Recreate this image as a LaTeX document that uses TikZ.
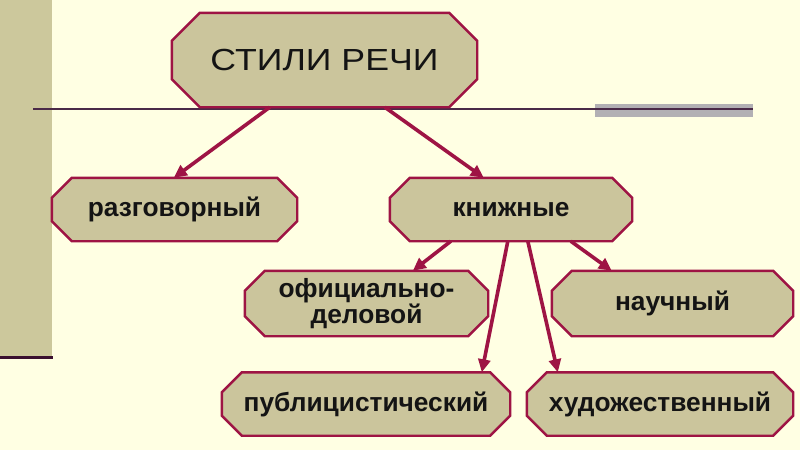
\documentclass[tikz,border=0pt]{standalone}
\usepackage{fontspec}
\setmainfont{Liberation Sans}
\newfontfamily\titlefont[FakeStretch=1.17]{Liberation Sans}
\usetikzlibrary{arrows.meta}
\definecolor{bgc}{HTML}{FFFFE3}
\definecolor{barc}{HTML}{CCC89C}
\definecolor{boxc}{HTML}{CBC59C}
\definecolor{edgec}{HTML}{9E1444}
\definecolor{linec}{HTML}{4A2A48}
\definecolor{greyc}{HTML}{B2B0B4}
\definecolor{darkc}{HTML}{3A1030}
\pgfdeclarelayer{bg}
\pgfdeclarelayer{boxes}
\pgfsetlayers{bg,boxes,main}
\tikzset{
  lbl/.style={font=\bfseries\fontsize{26.3}{26.5}\selectfont, text=black!92, align=center, inner sep=0pt},
  ttl/.style={font=\titlefont\fontsize{30.5}{32}\selectfont, text=black!92, inner sep=0pt},
  boxline/.style={draw=edgec, fill=boxc, line width=2.4pt, line join=miter},
  conn/.style={draw=edgec, line width=3.6pt, -{Triangle[length=13pt,width=12pt]}},
}
\newcommand\octobox[2]{%
  \draw[boxline] ([xshift=#2]#1.north west) -- ([xshift=-#2]#1.north east)
    -- ([yshift=-#2]#1.north east) -- ([yshift=#2]#1.south east)
    -- ([xshift=-#2]#1.south east) -- ([xshift=#2]#1.south west)
    -- ([yshift=#2]#1.south west) -- ([yshift=-#2]#1.north west) -- cycle;}
\begin{document}
\begin{tikzpicture}[x=1pt,y=-1pt]
\useasboundingbox (0,0) rectangle (800,450);
\begin{pgfonlayer}{bg}
  \fill[bgc] (0,0) rectangle (800,450);
  \fill[barc] (0,0) rectangle (52,357);
  \draw[darkc, line width=3.5pt] (0,357.5) -- (53,357.5);
  \fill[greyc] (595,104) rectangle (753,117);
  \draw[linec, line width=1.3pt] (33,109) -- (753,109);
\end{pgfonlayer}

\node[ttl, minimum width=305pt, minimum height=94pt] (stili) at (324.5,60) {СТИЛИ РЕЧИ};
\node[lbl, minimum width=245pt, minimum height=63pt] (razg) at (174.5,209.5) {разговорный};
\node[lbl, minimum width=242pt, minimum height=63pt] (knizh) at (511,209.5) {книжные};
\node[lbl, minimum width=243pt, minimum height=65pt] (ofic) at (366.5,303.5) {официально-\\деловой};
\node[lbl, minimum width=241pt, minimum height=65pt] (nauch) at (672.5,303.5) {научный};
\node[lbl, minimum width=288pt, minimum height=63pt] (publ) at (366,404) {публицистический};
\node[lbl, minimum width=266pt, minimum height=63pt] (khud) at (660,404) {художественный};

\begin{pgfonlayer}{boxes}
  \octobox{stili}{28pt}
  \octobox{razg}{20pt}
  \octobox{knizh}{20pt}
  \octobox{ofic}{20pt}
  \octobox{nauch}{20pt}
  \octobox{publ}{20pt}
  \octobox{khud}{20pt}
\end{pgfonlayer}

\draw[conn] ([xshift=98pt]stili.south west) -- ([xshift=122pt]razg.north west);
\draw[conn] ([xshift=213pt]stili.south west) -- ([xshift=94pt]knizh.north west);
\draw[conn] ([xshift=61pt]knizh.south west) -- ([xshift=168pt]ofic.north west);
\draw[conn] ([xshift=118pt]knizh.south west) -- ([xshift=260pt]publ.north west);
\draw[conn] ([xshift=138pt]knizh.south west) -- ([xshift=31pt]khud.north west);
\draw[conn] ([xshift=181pt]knizh.south west) -- ([xshift=60pt]nauch.north west);
\end{tikzpicture}
\end{document}
